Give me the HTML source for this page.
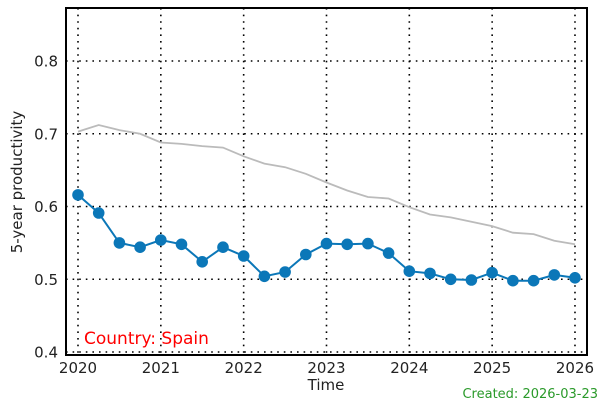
<!DOCTYPE html>
<html><head><meta charset="utf-8"><style>
html,body{margin:0;padding:0;background:#fff;width:600px;height:400px;overflow:hidden}
text{font-family:"DejaVu Sans","Liberation Sans",sans-serif}
</style></head><body>
<svg id="s" width="600" height="400" xmlns="http://www.w3.org/2000/svg"></svg>
<script>
var s=document.getElementById('s');
var L=66,R=587,T=8,B=355;
function X(t){return 78+(t-2020)*82.83}
function Y(v){return 61+(0.8-v)*727.5}
var h='';
for(var yr=2020;yr<=2026;yr++){var x=X(yr);h+='<line x1="'+x+'" y1="'+T+'" x2="'+x+'" y2="'+B+'" stroke="#000" stroke-width="1.6" stroke-dasharray="1.6,5"/>';
h+='<text x="'+x+'" y="373" font-size="15" text-anchor="middle" fill="#222">'+yr+'</text>';}
[0.4,0.5,0.6,0.7,0.8].forEach(function(v){var y=Y(v);h+='<line x1="'+L+'" y1="'+y+'" x2="'+R+'" y2="'+y+'" stroke="#000" stroke-width="1.6" stroke-dasharray="1.6,5"/>';
h+='<text x="58" y="'+(y+5.5)+'" font-size="15" text-anchor="end" fill="#222">'+v.toFixed(1)+'</text>';});
var g=[0.703,0.712,0.705,0.700,0.688,0.686,0.683,0.681,0.669,0.659,0.654,0.645,0.633,0.622,0.613,0.611,0.599,0.589,0.585,0.579,0.573,0.564,0.562,0.553,0.548];
var b=[0.616,0.591,0.550,0.544,0.554,0.548,0.524,0.544,0.532,0.504,0.510,0.534,0.549,0.548,0.549,0.536,0.511,0.508,0.500,0.499,0.509,0.498,0.498,0.506,0.502];
function pts(a){return a.map(function(v,i){return X(2020+i/4).toFixed(1)+','+Y(v).toFixed(1)}).join(' ')}
h+='<polyline points="'+pts(g)+'" fill="none" stroke="#bbb" stroke-width="1.8"/>';
h+='<polyline points="'+pts(b)+'" fill="none" stroke="#0b77b8" stroke-width="2"/>';
b.forEach(function(v,i){h+='<circle cx="'+X(2020+i/4).toFixed(1)+'" cy="'+Y(v).toFixed(1)+'" r="5.8" fill="#0b77b8"/>';});
h+='<rect x="'+L+'" y="'+T+'" width="'+(R-L)+'" height="'+(B-T)+'" fill="none" stroke="#000" stroke-width="2"/>';
h+='<text x="84" y="344" font-size="17" fill="#ff0000">Country: Spain</text>';
h+='<text x="326" y="390" font-size="15" text-anchor="middle" fill="#222">Time</text>';
h+='<text transform="translate(22,182) rotate(-90)" font-size="15" text-anchor="middle" fill="#222">5-year productivity</text>';
h+='<text x="598" y="398" font-size="13" text-anchor="end" fill="#2a9a2a">Created: 2026-03-23</text>';
s.innerHTML=h;
</script>
</body></html>
